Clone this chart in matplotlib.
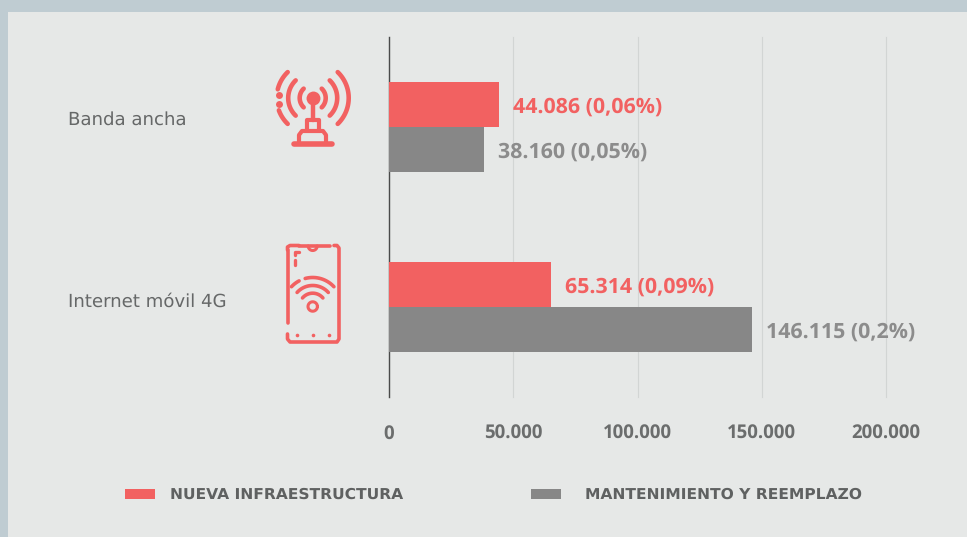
import numpy as np
import matplotlib
matplotlib.use('Agg')
import matplotlib.pyplot as plt
from matplotlib.patches import Rectangle

plt.rcParams['text.hinting'] = 'no_hinting'

# values
categories = ['Banda ancha', 'Internet móvil 4G']
nueva = [44086, 65314]
mantenimiento = [38160, 146115]
nueva_labels = ['44.086 (0,06%)', '65.314 (0,09%)']
mant_labels = ['38.160 (0,05%)', '146.115 (0,2%)']
ticks = [0, 50000, 100000, 150000, 200000]
tick_labels = ['0', '50.000', '100.000', '150.000', '200.000']
legend_names = ['NUEVA INFRAESTRUCTURA', 'MANTENIMIENTO Y REEMPLAZO']

W, H = 967, 537
RED = '#f26161'
GRAY = '#878787'
TXT = '#666868'

fig = plt.figure(figsize=(W / 100, H / 100), dpi=100, facecolor='#bfccd2')

# overlay in pixel coordinates for panel, icons and legend
bg = fig.add_axes([0, 0, 1, 1], zorder=0)
bg.set_xlim(0, W)
bg.set_ylim(H, 0)
bg.axis('off')
bg.add_patch(Rectangle((8, 12), W - 8, H - 12, fc='#e6e8e7', ec='none'))

ax = fig.add_axes([389 / W, 1 - 397 / H, 497 / W, 360 / H], zorder=1)
ax.patch.set_alpha(0)
ax.set_xlim(0, 200000)
ax.set_ylim(1.5, -0.5)
y = np.arange(len(categories))
h = 0.25
ax.barh(y - h / 2, nueva, height=h, color=RED, zorder=3)
ax.barh(y + h / 2, mantenimiento, height=h, color=GRAY, zorder=3)

for i in y:
    ax.annotate(nueva_labels[i], (nueva[i], i - h / 2), xytext=(10.2, -1.6), textcoords='offset points',
                va='center', ha='left', color=RED, fontsize=15.4, fontweight='bold', family='Open Sans')
    ax.annotate(mant_labels[i], (mantenimiento[i], i + h / 2), xytext=(10.2, -2), textcoords='offset points',
                va='center', ha='left', color='#8c8c8c', fontsize=15.4, fontweight='bold', family='Open Sans')

ax.set_xticks(ticks)
ax.set_xticklabels(tick_labels, fontsize=13.4, fontweight='bold', family='Open Sans', color='#6b6d6d')
ax.tick_params(axis='x', length=0, pad=20)
ax.set_yticks([])
ax.grid(axis='x', color='#d2d5d4', lw=0.8, zorder=0, clip_on=False)
for s in ['top', 'right', 'bottom']:
    ax.spines[s].set_visible(False)
ax.spines['left'].set_color('#4a4a4a')
ax.spines['left'].set_linewidth(1)
ax.set_axisbelow(True)

# category labels
for name, py in zip(categories, [120, 302]):
    bg.text(68, py, name, fontsize=13.1, family='DejaVu Sans', color=TXT, va='center', ha='left')


def arc(cx, cy, r, a0, a1, lw=3):
    t = np.radians(np.linspace(a0, a1, 40))
    bg.plot(cx + r * np.cos(t), cy - r * np.sin(t), color=RED, lw=lw, solid_capstyle='round')


def seg(xs, ys, lw=3):
    bg.plot(xs, ys, color=RED, lw=lw, solid_capstyle='round', solid_joinstyle='round')


# antenna icon
cx, cy = 312.7, 98
for r, a in [(13, 46), (24.5, 46), (36, 46)]:
    arc(cx, cy, r, -a, a, lw=3.3)
arc(cx, cy, 13, 180 - 46, 180 + 46, lw=3.3)
arc(cx, cy, 24.5, 180 - 46, 180 + 46, lw=3.3)
arc(cx, cy, 36, 180 - 46, 180 - 14, lw=3.3)
arc(cx, cy, 36, 180 + 20, 180 + 46, lw=3.3)
bg.plot([278.5, 278.5], [95, 103.5], 'o', color=RED, ms=5, mew=0)
bg.plot([cx], [cy], 'o', color=RED, ms=10, mew=0)
seg([cx, cx], [cy, 120], lw=3.2)
seg([307, 307, 318.5, 318.5], [130, 120, 120, 130], lw=3)
seg([299, 299, 302, 323, 326, 326], [143, 135, 131, 131, 135, 143], lw=3)
seg([294, 332], [144, 144], lw=4)

# phone icon
seg([287.5, 287.5], [323, 250], lw=2.6)
seg([287.5, 287.5, 290, 299], [250, 247, 245.5, 245.5], lw=2.6)
seg([299, 330], [245.5, 245.5], lw=2.6)
seg([334, 337, 339, 339, 337, 290, 287.5, 287.5],
    [245.5, 245.5, 248, 339, 342, 342, 339, 334], lw=2.6)
arc(312.7, 246, 4.5, 180, 360, lw=2.2)
seg([298.5, 294.5, 294.5], [251.5, 251.5, 255], lw=2.4)
seg([294.5, 294.5], [260, 265], lw=2.4)
for px in [297, 313, 329]:
    bg.plot([px], [335], 'o', color=RED, ms=2.6, mew=0)
wx, wy = 312.7, 306.5
arc(wx, wy, 4.7, 0, 360, lw=2.2)
arc(wx, wy, 13.3, 40, 140, lw=2.6)
arc(wx, wy, 21, 42, 138, lw=2.6)
arc(wx, wy, 29, 43, 105, lw=2.6)
arc(wx, wy, 29, 118, 137, lw=2.6)

# legend
for x0, col, name, tx in zip([125, 531], [RED, GRAY], legend_names, [170, 585]):
    bg.add_patch(Rectangle((x0, 488.5), 30, 10.5, fc=col, ec='none'))
    bg.text(tx, 495, name, fontsize=11.15, fontweight='bold', family='DejaVu Sans', color='#5f6161',
            va='center', ha='left')

fig.savefig('out.png', dpi=100, facecolor=fig.get_facecolor())
